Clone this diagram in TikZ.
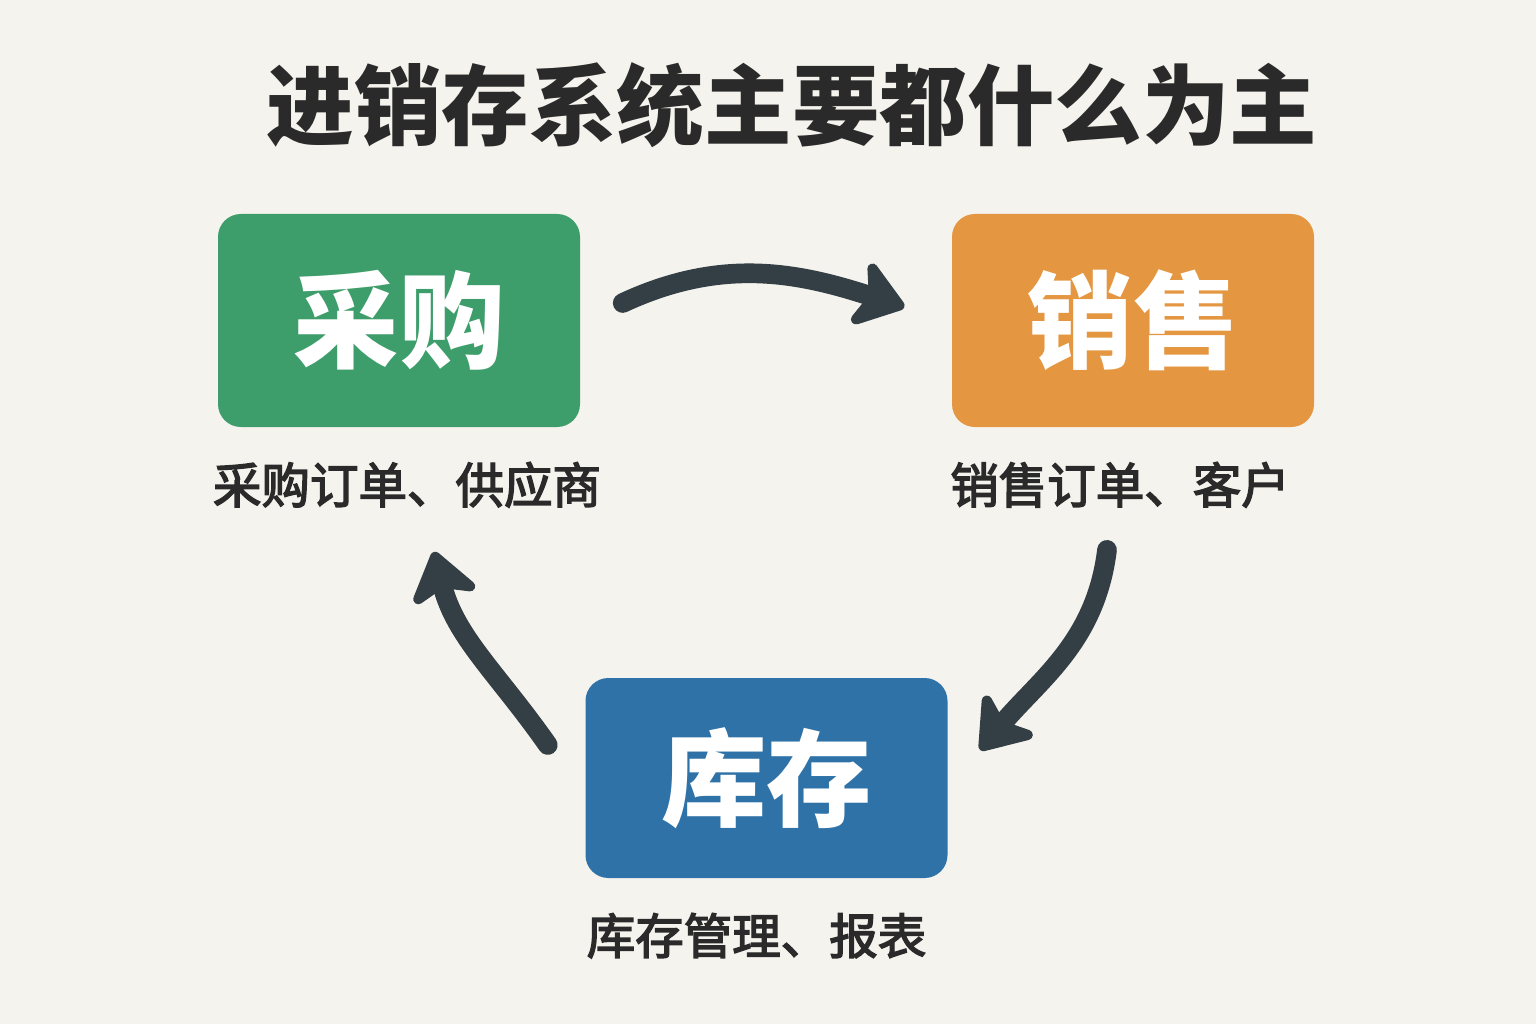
\documentclass[tikz,border=0pt]{standalone}
\usepackage{xcolor}
\usepackage{fontspec}
\newfontfamily\cjk{Noto Sans CJK SC}
\newfontfamily\cjkmid{Noto Sans CJK SC}[FakeBold=3]
\usetikzlibrary{positioning, arrows.meta, calc}
\definecolor{paperbg}{HTML}{F5F3EE}
\definecolor{buygreen}{HTML}{3E9E6B}
\definecolor{sellorange}{HTML}{E49641}
\definecolor{stockblue}{HTML}{2F72A8}
\definecolor{arrowgray}{HTML}{333F44}
\definecolor{textdark}{HTML}{2A2A2A}

\begin{document}
\begin{tikzpicture}[
    node distance=0.22cm, % Gap between a box and its caption
    box/.style={ % Style for the three module boxes, takes fill color as argument
        rectangle,
        rounded corners=6.5pt,
        minimum width=3.62cm,
        minimum height=2.13cm,
        text centered,
        font=\cjk\bfseries\fontsize{30}{34}\selectfont,
        text=white,
        draw=none, % No border, fill provides shape
        fill=#1
    },
    % Specific styles using the base 'box' style
    purchase_box/.style={box=buygreen},
    sales_box/.style={box=sellorange},
    stock_box/.style={box=stockblue, minimum height=2.0cm},
    % Arrow style
    arrow/.style={
        -{Stealth[round, line width=3.5pt, length=0.56cm, width=0.8cm, inset=0.15cm]},
        line width=5.6pt,
        line cap=round,
        draw=#1
    },
    arrow/.default=arrowgray,
    % Style for captions under the boxes
    label_text/.style={
        font=\cjkmid\fontsize{13.8}{16}\selectfont,
        text=textdark,
        text centered,
        align=center
    }
]

% Background and fixed page size
\fill[paperbg] (0,0) rectangle (15.36,10.24);
\useasboundingbox (0,0) rectangle (15.36,10.24);

% Title
\node[font=\cjk\bfseries\fontsize{24.9}{28}\selectfont, text=textdark] (title) at (7.92,9.19) {进销存系统主要都什么为主};

% Module boxes
\node[purchase_box] (purchase) at (3.99,7.035) {采购};
\node[sales_box] (sales) at (11.33,7.035) {销售};
\node[stock_box] (stock) at (7.665,2.46) {库存};

% Captions
\node[label_text] (purchase_label) [below=of purchase, xshift=0.08cm] {采购订单、供应商};
\node[label_text] (sales_label) [below=of sales, xshift=-0.13cm] {销售订单、客户};
\node[label_text] (stock_label) [below=of stock, xshift=-0.1cm] {库存管理、报表};

% Free ends of the curved arrows
\coordinate (buy_out) at ($(purchase.east)+(0.42,0.175)$);
\coordinate (sell_in) at ($(sales.west)+(-0.47,0.135)$);
\coordinate (sell_out) at ($(sales_label.south)+(-0.13,-0.3)$);
\coordinate (stock_in) at ($(stock.east)+(0.32,0.28)$);
\coordinate (stock_out) at ($(stock.west)+(-0.37,0.33)$);
\coordinate (buy_in) at ($(purchase_label.south)+(0.27,-0.32)$);

% Draw the cycle
\draw[arrow] (buy_out) to [out=25, in=162] (sell_in);
\draw[arrow] (sell_out) to [out=-97, in=50] (stock_in);
\draw[arrow] (stock_out) to [out=125, in=-76] (buy_in);

\end{tikzpicture}
\end{document}
